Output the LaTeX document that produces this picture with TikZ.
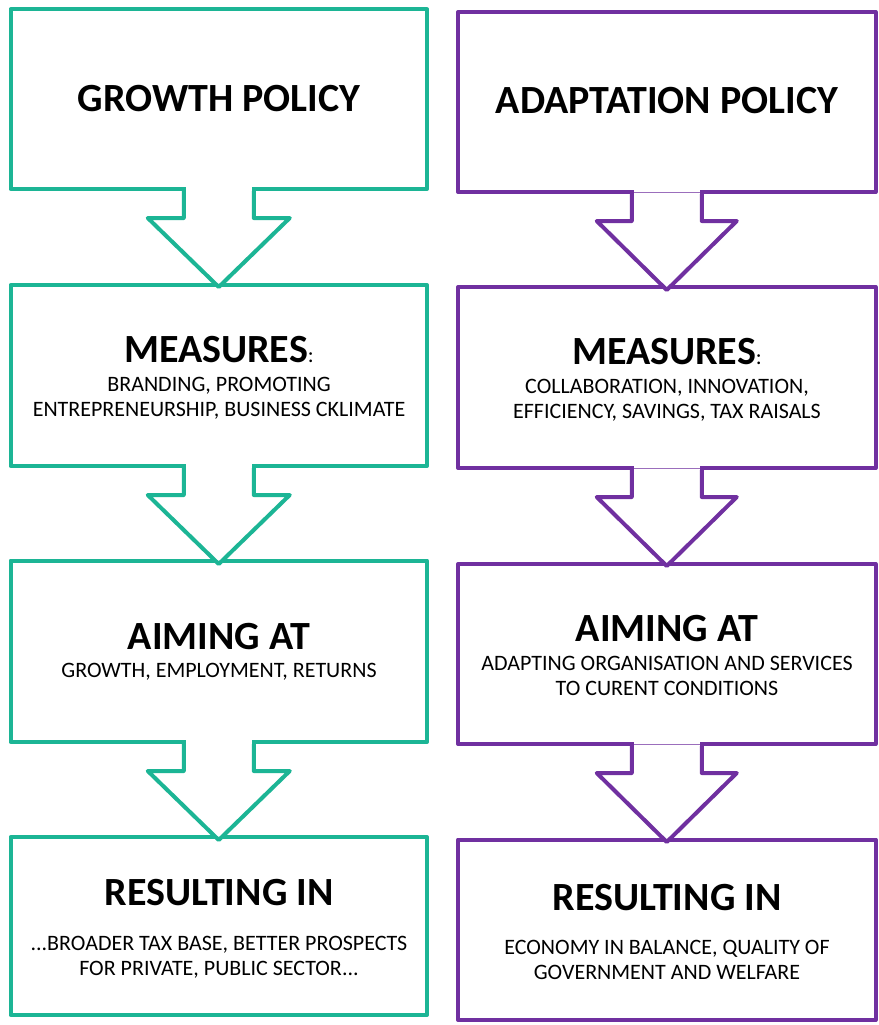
\documentclass[tikz,border=0pt]{standalone}
\usepackage{fontspec}
\setmainfont{Carlito}
\usetikzlibrary{calc}
\definecolor{gteal}{HTML}{1CB595}
\definecolor{apurple}{HTML}{7030A0}
\tikzset{
  boxbase/.style={draw, line width=4, line join=round, fill=white, outer sep=0pt, inner sep=0pt},
  gbox/.style={boxbase, draw=gteal, minimum width=416.5, minimum height=#1},
  abox/.style={boxbase, draw=apurple, minimum width=417.5, minimum height=#1},
  gline/.style={draw=gteal, line width=4, line join=round, fill=white},
  aline/.style={draw=apurple, line width=4, line join=round, fill=white},
  title/.style={font=\fontsize{40}{44}\selectfont\bfseries, inner sep=0pt},
  body/.style={font=\fontsize{22}{25}\selectfont, align=center, inner sep=0pt},
}
\newcommand{\bodycolon}{{\fontsize{22}{25}\selectfont\mdseries :}}
\begin{document}
\begin{tikzpicture}[x=1pt,y=-1pt]
\useasboundingbox (0,0) rectangle (878,1025);
\fill[white] (0,0) rectangle (878,1025);
% boxes
\node[gbox=179.5] (g1) at (218.75,99.25) {};
\node[gbox=181]   (g2) at (218.75,375.5) {};
\node[gbox=181.5] (g3) at (218.75,651.25) {};
\node[gbox=178]   (g4) at (218.75,926) {};
\node[abox=180]   (a1) at (666.75,102) {};
\node[abox=181]   (a2) at (666.75,377.5) {};
\node[abox=180]   (a3) at (666.75,654) {};
\node[abox=180.5] (a4) at (666.75,929.75) {};
% arrows, left column
\foreach \s in {g1,g2,g3}{
  \draw[gline] ($(\s.south)+(-35,0)$) -- ++(0,29) -- ++(-36,0) -- ($(\s.south)+(0,98)$)
     -- ($(\s.south)+(71,29)$) -- ++(-36,0) -- ++(0,-29);
  \fill[white] ($(\s.south)+(-33,-3)$) rectangle ($(\s.south)+(33,2)$);
}
% arrows, right column
\foreach \s in {a1,a2,a3}{
  \draw[aline] ($(\s.south)+(-35,0)$) -- ++(0,29) -- ++(-35,0) -- ($(\s.south)+(0,98)$)
     -- ($(\s.south)+(70,29)$) -- ++(-35,0) -- ++(0,-29);
  \fill[white] ($(\s.south)+(-33,-3)$) rectangle ($(\s.south)+(33,2)$);
  \draw[apurple!70, line width=1] ($(\s.south)+(-33,0)$) -- ($(\s.south)+(33,0)$);
}
% texts, left column
\node[title] (g1t) at (219,99) {GROWTH POLICY};
\node[title] (g2t) at (219,350) {MEASURES\bodycolon};
\node[body]  (g2b) at (219,398) {BRANDING, PROMOTING\\ENTREPRENEURSHIP, BUSINESS CKLIMATE};
\node[title] (g3t) at (219,637) {AIMING AT};
\node[body]  (g3b) at (219,672) {GROWTH, EMPLOYMENT, RETURNS};
\node[title] (g4t) at (219,893) {RESULTING IN};
\node[body]  (g4b) at (219,957) {...BROADER TAX BASE, BETTER PROSPECTS\\FOR PRIVATE, PUBLIC SECTOR...};
% texts, right column
\node[title] (a1t) at (667,101) {ADAPTATION POLICY};
\node[title] (a2t) at (667,352) {MEASURES\bodycolon};
\node[body]  (a2b) at (667,400) {COLLABORATION, INNOVATION,\\EFFICIENCY, SAVINGS, TAX RAISALS};
\node[title] (a3t) at (667,629) {AIMING AT};
\node[body]  (a3b) at (667,676) {ADAPTING ORGANISATION AND SERVICES\\TO CURENT CONDITIONS};
\node[title] (a4t) at (667,898) {RESULTING IN};
\node[body]  (a4b) at (667,960) {ECONOMY IN BALANCE, QUALITY OF\\GOVERNMENT AND WELFARE};
\end{tikzpicture}
\end{document}
